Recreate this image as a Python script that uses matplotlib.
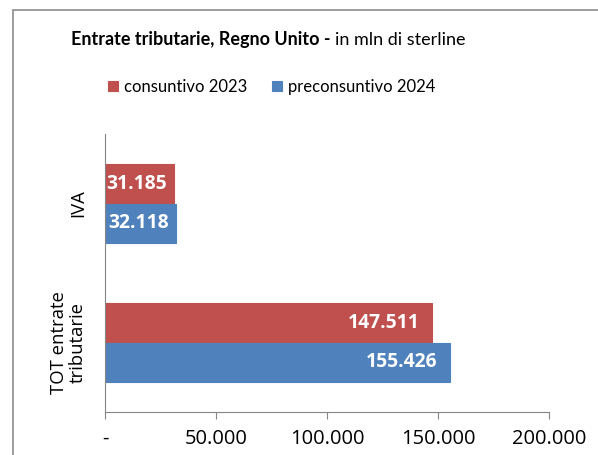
import matplotlib
matplotlib.use("Agg")
import matplotlib.pyplot as plt
from matplotlib.patches import Rectangle

categories = ["IVA", "TOT entrate\ntributarie"]
series_names = ["consuntivo 2023", "preconsuntivo 2024"]
vals_2023 = [31185, 147511]
vals_2024 = [32118, 155426]
xticks = [0, 50000, 100000, 150000, 200000]
xtick_labels = ["-", "50.000", "100.000", "150.000", "200.000"]
colors = ["#C0504D", "#4F81BD"]

plt.rcParams['font.family'] = ['Open Sans', 'DejaVu Sans']

fig = plt.figure(figsize=(5.98, 4.55), dpi=100)
W, H = 598, 455
fig.patches.append(Rectangle((13 / W, -0.1), 1.2, 1 - 10 / H + 0.1, transform=fig.transFigure,
                             fill=False, edgecolor="#8c8c8c", linewidth=1.2))

ax = fig.add_axes([105 / W, 1 - 412 / H, (549 - 105) / W, (412 - 134) / H])
pos = list(range(len(categories)))
h = 0.285
for i, (vals, c, name) in enumerate(zip([vals_2023, vals_2024], colors, series_names)):
    ys = [p - h / 2 if i == 0 else p + h / 2 for p in pos]
    ax.barh(ys, vals, height=h, color=c, edgecolor=c, linewidth=0.8, label=name)
    for y, v in zip(ys, vals):
        lab = f"{v:,}".replace(",", ".")
        ax.annotate(lab, xy=(v, y), xytext=(-5 if v < 60000 else -9, 0), textcoords="offset points",
                    ha="right", va="center", color="white", fontweight="bold", fontsize=13.9)

ax.set_ylim(1.5, -0.5)
ax.set_xlim(0, 200000)
ax.set_yticks(pos)
ax.set_yticklabels(categories, rotation=90, va="center", ha="right", fontsize=13.3,
                   multialignment="center", linespacing=1.1)
ax.tick_params(axis="y", length=0, pad=13)
ax.set_xticks(xticks)
ax.set_xticklabels(xtick_labels, fontsize=14.5)
ax.tick_params(axis="x", length=5, color="#868686", pad=7)
for s in ["top", "right"]:
    ax.spines[s].set_visible(False)
for s in ["left", "bottom"]:
    ax.spines[s].set_color("#868686")

t1 = fig.text(71 / W, 1 - 40 / H, "Entrate tributarie, Regno Unito - ", ha="left", va="center",
              fontsize=13, fontweight="bold", family=["Lato", "DejaVu Sans"])
fig.canvas.draw()
bb = t1.get_window_extent()
fig.text(bb.x1 / (W), 1 - 40 / H, "in mln di sterline", ha="left", va="center", fontsize=13,
         family=["Lato", "DejaVu Sans"])

ax.legend(loc="center", bbox_to_anchor=(272 / W, 1 - 87 / H), bbox_transform=fig.transFigure,
          ncol=2, frameon=False, prop={"family": ["Lato", "DejaVu Sans"], "size": 12},
          handlelength=0.6, handleheight=0.6, handletextpad=0.35, columnspacing=1.5)

fig.savefig("out.png", dpi=100)
